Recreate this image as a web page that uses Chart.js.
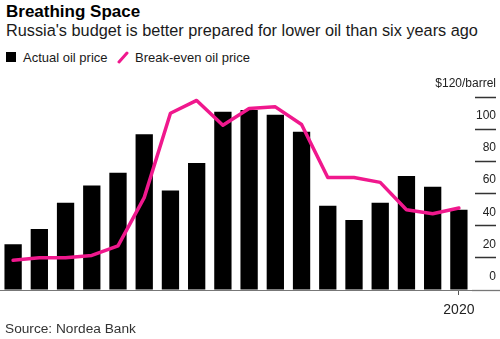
<!DOCTYPE html>
<html lang="en">
<head>
<meta charset="UTF-8">
<title>Breathing Space</title>
<style>
  body { margin:0; padding:0; background:#fff; font-family:'Liberation Sans',Arial,sans-serif; color:#000; }
  .wrap { position:relative; width:500px; height:339px; overflow:hidden; }
  .title { position:absolute; left:6px; top:3px; font-size:17px; line-height:1; font-weight:bold; }
  .subtitle { position:absolute; left:6px; top:22px; font-size:16.3px; line-height:1; color:#1a1a1a; }
  .legend { position:absolute; left:6px; top:51px; font-size:13px; line-height:1; color:#1a1a1a; }
  .legend span { position:absolute; white-space:nowrap; }
  .sq { position:absolute; left:0; top:1px; width:10px; height:10px; background:#000; }
  .slash { position:absolute; left:111px; top:0; }
  .chartbox { position:absolute; left:0; top:66px; width:500px; height:258px; }
  .source { position:absolute; left:5px; top:322px; font-size:13.7px; line-height:1; color:#333; }
</style>
</head>
<body>
<div class="wrap">
  <div class="title">Breathing Space</div>
  <div class="subtitle">Russia's budget is better prepared for lower oil than six years ago</div>
  <div class="legend">
    <div class="sq"></div>
    <span style="left:17px">Actual oil price</span>
    <svg class="slash" width="14" height="13"><line x1="2" y1="11" x2="10" y2="2" stroke="#f0188d" stroke-width="3" stroke-linecap="round"/></svg>
    <span style="left:129px">Break-even oil price</span>
  </div>
  <div class="chartbox"><canvas id="chart"></canvas></div>
  <div class="source">Source: Nordea Bank</div>
</div>

<script src="https://cdn.jsdelivr.net/npm/chart.js"></script>
<script>
const years = [2003,2004,2005,2006,2007,2008,2009,2010,2011,2012,2013,2014,2015,2016,2017,2018,2019,2020];
const actualPrice = [28.5,38,54.3,65,73,97,62,79,111,112,109,98.5,52.5,43.5,54.3,71,64.3,50];
const breakEven = [18.5,20,20,21.5,27.5,57.5,110,118,102.5,113,114,103,70,70,67,50,47.5,51];
const yTicks = [0,20,40,60,80,100,120];
const pink = '#f0188d';

new Chart(document.getElementById('chart'), {
  type: 'bar',
  data: {
    labels: years,
    datasets: [
      { type:'line', label:'Break-even oil price', data:breakEven, borderColor:pink, borderWidth:3.5,
        pointRadius:0, tension:0, borderJoinStyle:'round', borderCapStyle:'round', order:0 },
      { label:'Actual oil price', data:actualPrice, backgroundColor:'#000',
        barPercentage:0.66, categoryPercentage:1, order:1 }
    ]
  },
  options: {
    responsive:true, maintainAspectRatio:false, animation:false,
    layout: { padding:{ left:0, right:0, top:28, bottom:4 } },
    plugins: { legend:{display:false}, tooltip:{enabled:false} },
    scales: {
      x: {
        grid: { offset:false, drawOnChartArea:false, tickLength:5,
          tickColor: c => years[c.index] === 2020 ? '#555' : 'rgba(0,0,0,0)' },
        border: { color:'#777', width:1 },
        ticks: { autoSkip:false, maxRotation:0, padding:7, color:'#222',
          font:{ family:'Liberation Sans', size:14 },
          callback: (v, i) => years[i] === 2020 ? '2020' : '' },
        afterFit: s => { s.height = 30; }
      },
      y: {
        position:'right', min:0, max:120,
        afterBuildTicks: s => { s.ticks = yTicks.map(v => ({ value:v })); },
        grid: { drawOnChartArea:false, tickLength:28, tickWidth:1.3,
          tickColor: c => c.tick && c.tick.value === 0 ? '#777' : '#333',
          tickBorderDash: c => c.tick && c.tick.value === 0 ? [] : [0,3,21,100] },
        border: { display:false },
        ticks: { mirror:true, padding:24, labelOffset:-13.5, color:'#222',
          font:{ family:'Liberation Sans', size:12 },
          callback: v => v === 120 ? '$120/barrel' : v },
        afterFit: s => { s.width = 28; }
      }
    }
  }
});
</script>
</body>
</html>
